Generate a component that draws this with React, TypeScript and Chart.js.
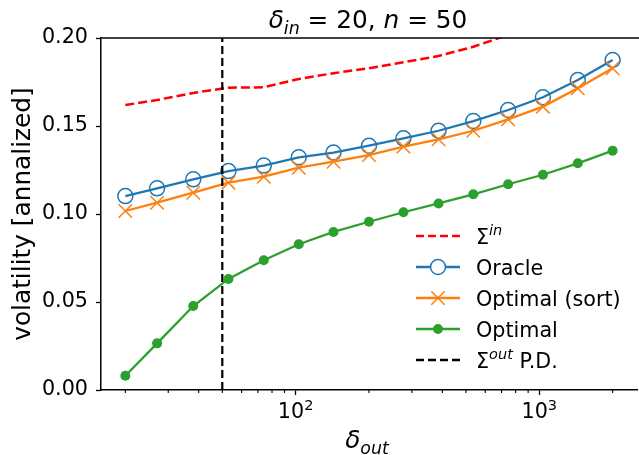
import React, { useEffect, useRef } from 'react';
import { Chart, registerables } from 'chart.js';

Chart.register(...registerables);

// ---- data ----
const deltaOut = [20, 27, 38, 53, 74, 103, 143, 200, 277, 386, 536, 745, 1035, 1439, 2000];
const sigmaIn = [0.1619, 0.1648, 0.1688, 0.1718, 0.172, 0.1767, 0.18, 0.1828, 0.1862, 0.1898, 0.195, 0.2018, 0.209, 0.218, 0.23];
const oracle = [0.1102, 0.1146, 0.1197, 0.1244, 0.1275, 0.1322, 0.1349, 0.1388, 0.143, 0.1473, 0.1528, 0.1591, 0.1663, 0.1761, 0.1875];
const optimalSort = [0.1017, 0.1064, 0.1121, 0.1178, 0.1212, 0.1263, 0.1297, 0.1335, 0.1383, 0.1424, 0.1473, 0.1538, 0.161, 0.1714, 0.1828];
const optimal = [0.0081, 0.0265, 0.0477, 0.0631, 0.0737, 0.0828, 0.0898, 0.0956, 0.101, 0.106, 0.1112, 0.1169, 0.1223, 0.1288, 0.136];
const nValue = 50;

const xMajorTicks = [100, 1000];
const xMinorTicks = [20, 30, 40, 50, 60, 70, 80, 90, 200, 300, 400, 500, 600, 700, 800, 900, 2000];
const yTicks = [0, 0.05, 0.1, 0.15, 0.2];
const xMin = 15.89;
const xMax = 2518;
const yMin = 0;
const yMax = 0.2;

const FAMILY = '"DejaVu Sans", sans-serif';
const FS = 20.7; // ticks, legend
const LFS = 24.8; // title, axis labels
const SUB = 14.5;
const LSUB = 17.4;
const BLUE = '#1f77b4';
const ORANGE = '#ff7f0e';
const GREEN = '#2ca02c';
const RED = '#ff0000';

type Run = { t: string; size: number; italic?: boolean; dy?: number };

function fontStr(r: Run) {
  return `${r.italic ? 'italic ' : ''}${r.size}px ${FAMILY}`;
}

function drawRuns(ctx: CanvasRenderingContext2D, runs: Run[], x: number, y: number, align: 'left' | 'center') {
  ctx.textAlign = 'left';
  ctx.textBaseline = 'alphabetic';
  let total = 0;
  const widths = runs.map((r) => {
    ctx.font = fontStr(r);
    const w = ctx.measureText(r.t).width;
    total += w;
    return w;
  });
  let cx = align === 'center' ? x - total / 2 : x;
  runs.forEach((r, i) => {
    ctx.font = fontStr(r);
    ctx.fillText(r.t, cx, y + (r.dy || 0));
    cx += widths[i];
  });
}

const decorPlugin = {
  id: 'decor',
  afterDraw(chart: any) {
    const ctx: CanvasRenderingContext2D = chart.ctx;
    const area = chart.chartArea;
    const xs = chart.scales.x;
    ctx.save();
    ctx.fillStyle = '#000';
    ctx.strokeStyle = '#000';

    // top spine
    ctx.lineWidth = 1.5;
    ctx.beginPath();
    ctx.moveTo(area.left - 0.75, area.top);
    ctx.lineTo(chart.width, area.top);
    ctx.stroke();

    // minor ticks
    ctx.lineWidth = 1.1;
    xMinorTicks.forEach((v) => {
      const px = xs.getPixelForValue(v);
      ctx.beginPath();
      ctx.moveTo(px, area.bottom);
      ctx.lineTo(px, area.bottom + 3);
      ctx.stroke();
    });

    // major x tick labels 10^k
    xMajorTicks.forEach((v) => {
      const px = xs.getPixelForValue(v);
      const e = String(Math.round(Math.log10(v)));
      drawRuns(
        ctx,
        [
          { t: '10', size: FS },
          { t: e, size: SUB, dy: -8.5 },
        ],
        px,
        area.bottom + 28,
        'center'
      );
    });

    const cxMid = (area.left + area.right) / 2;

    // title
    drawRuns(
      ctx,
      [
        { t: 'δ', size: LFS, italic: true },
        { t: 'in', size: LSUB, italic: true, dy: 5.5 },
        { t: ' = 20, ', size: LFS },
        { t: 'n', size: LFS, italic: true },
        { t: ' = 50', size: LFS },
      ],
      cxMid - 1,
      28,
      'center'
    );

    // x label
    drawRuns(
      ctx,
      [
        { t: 'δ', size: LFS, italic: true },
        { t: 'out', size: LSUB, italic: true, dy: 6 },
      ],
      cxMid - 2,
      448,
      'center'
    );

    // y label
    ctx.save();
    ctx.translate(30, (area.top + area.bottom) / 2);
    ctx.rotate(-Math.PI / 2);
    ctx.font = `${LFS}px ${FAMILY}`;
    ctx.textAlign = 'center';
    ctx.textBaseline = 'alphabetic';
    ctx.fillText('volatility [annalized]', 0, 0);
    ctx.restore();

    // legend
    const lx0 = 416;
    const lx1 = 460;
    const lmx = (lx0 + lx1) / 2;
    const tx = 476;
    const rows = [236, 267, 298, 329, 360];
    const drawSample = (y: number, color: string, dash: number[], width: number) => {
      ctx.save();
      ctx.strokeStyle = color;
      ctx.lineWidth = width;
      ctx.setLineDash(dash);
      ctx.beginPath();
      ctx.moveTo(lx0, y);
      ctx.lineTo(lx1, y);
      ctx.stroke();
      ctx.restore();
    };
    // Sigma in
    drawSample(rows[0], RED, [8, 4], 2.5);
    drawRuns(ctx, [{ t: 'Σ', size: FS }, { t: 'in', size: SUB, italic: true, dy: -8.5 }], tx, rows[0] + 7.5, 'left');
    // Oracle
    drawSample(rows[1], BLUE, [], 2.3);
    ctx.save();
    ctx.strokeStyle = BLUE;
    ctx.lineWidth = 1.5;
    ctx.fillStyle = '#fff';
    ctx.beginPath();
    ctx.arc(lmx, rows[1], 7.5, 0, Math.PI * 2);
    ctx.fill();
    ctx.stroke();
    ctx.restore();
    drawRuns(ctx, [{ t: 'Oracle', size: FS }], tx, rows[1] + 7.5, 'left');
    // Optimal (sort)
    drawSample(rows[2], ORANGE, [], 2.3);
    ctx.save();
    ctx.strokeStyle = ORANGE;
    ctx.lineWidth = 1.5;
    const d = 6.7;
    ctx.beginPath();
    ctx.moveTo(lmx - d, rows[2] - d);
    ctx.lineTo(lmx + d, rows[2] + d);
    ctx.moveTo(lmx - d, rows[2] + d);
    ctx.lineTo(lmx + d, rows[2] - d);
    ctx.stroke();
    ctx.restore();
    drawRuns(ctx, [{ t: 'Optimal (sort)', size: FS }], tx, rows[2] + 7.5, 'left');
    // Optimal
    drawSample(rows[3], GREEN, [], 2.3);
    ctx.save();
    ctx.fillStyle = GREEN;
    ctx.beginPath();
    ctx.arc(lmx, rows[3], 5, 0, Math.PI * 2);
    ctx.fill();
    ctx.restore();
    drawRuns(ctx, [{ t: 'Optimal', size: FS }], tx, rows[3] + 7.5, 'left');
    // Sigma out P.D.
    drawSample(rows[4], '#000', [8, 4], 2.3);
    drawRuns(
      ctx,
      [
        { t: 'Σ', size: FS },
        { t: 'out', size: SUB, italic: true, dy: -8.5 },
        { t: ' P.D.', size: FS },
      ],
      tx,
      rows[4] + 7.5,
      'left'
    );

    ctx.restore();
  },
};

export default function App() {
  const ref = useRef<HTMLCanvasElement>(null);

  useEffect(() => {
    const toXY = (ys: number[]) => deltaOut.map((x, i) => ({ x, y: ys[i] }));
    const chart = new Chart(ref.current as HTMLCanvasElement, {
      type: 'line',
      data: {
        datasets: [
          {
            label: 'Σout P.D.',
            data: [
              { x: nValue, y: yMin },
              { x: nValue, y: yMax },
            ],
            borderColor: '#000',
            borderWidth: 2.2,
            borderDash: [8, 4],
            pointRadius: 0,
            order: 0,
          },
          {
            label: 'Optimal',
            data: toXY(optimal),
            borderColor: GREEN,
            borderWidth: 2.3,
            pointStyle: 'circle',
            pointRadius: 5,
            pointBackgroundColor: GREEN,
            pointBorderColor: GREEN,
            pointBorderWidth: 0,
            order: 1,
          },
          {
            label: 'Optimal (sort)',
            data: toXY(optimalSort),
            borderColor: ORANGE,
            borderWidth: 2.3,
            pointStyle: 'crossRot',
            pointRadius: 9.5,
            pointBorderColor: ORANGE,
            pointBorderWidth: 1.5,
            order: 2,
          },
          {
            label: 'Oracle',
            data: toXY(oracle),
            borderColor: BLUE,
            borderWidth: 2.3,
            pointStyle: 'circle',
            pointRadius: 7.5,
            pointBackgroundColor: 'rgba(0,0,0,0)',
            pointBorderColor: BLUE,
            pointBorderWidth: 1.5,
            order: 3,
          },
          {
            label: 'Σin',
            data: toXY(sigmaIn),
            borderColor: RED,
            borderWidth: 2.5,
            borderDash: [9, 4],
            pointRadius: 0,
            order: 4,
          },
        ],
      },
      options: {
        animation: false,
        responsive: false,
        devicePixelRatio: 1,
        events: [],
        layout: { padding: { left: 0, top: 38, right: 6, bottom: 0 } },
        plugins: {
          legend: { display: false },
          title: { display: false },
          tooltip: { enabled: false },
        },
        scales: {
          x: {
            type: 'logarithmic',
            min: xMin,
            max: xMax,
            afterBuildTicks: (scale: any) => {
              scale.ticks = xMajorTicks.map((v) => ({ value: v, major: true }));
            },
            afterFit: (scale: any) => {
              scale.height = 65;
            },
            ticks: {
              autoSkip: false,
              maxRotation: 0,
              padding: 3,
              color: '#000',
              font: { family: FAMILY, size: FS },
              callback: () => '',
            },
            grid: {
              display: true,
              drawOnChartArea: false,
              drawTicks: true,
              tickLength: 5,
              tickWidth: 1.3,
              tickColor: '#000',
            },
            border: { display: true, color: '#000', width: 1.5 },
          },
          y: {
            type: 'linear',
            min: yMin,
            max: yMax,
            afterBuildTicks: (scale: any) => {
              scale.ticks = yTicks.map((v) => ({ value: v }));
            },
            afterFit: (scale: any) => {
              scale.width = 101;
            },
            ticks: {
              padding: 8,
              color: '#000',
              font: { family: FAMILY, size: FS },
              callback: (value: any) => Number(value).toFixed(2),
            },
            grid: {
              display: true,
              drawOnChartArea: false,
              drawTicks: true,
              tickLength: 5,
              tickWidth: 1.3,
              tickColor: '#000',
            },
            border: { display: true, color: '#000', width: 1.5 },
          },
        },
      },
      plugins: [decorPlugin],
    } as any);
    return () => chart.destroy();
  }, []);

  return (
    <div
      style={{
        position: 'absolute',
        left: 0,
        top: 0,
        width: 639,
        height: 455,
        overflow: 'hidden',
        background: '#fff',
      }}
    >
      <canvas ref={ref} width={648} height={455} style={{ display: 'block' }} />
    </div>
  );
}
